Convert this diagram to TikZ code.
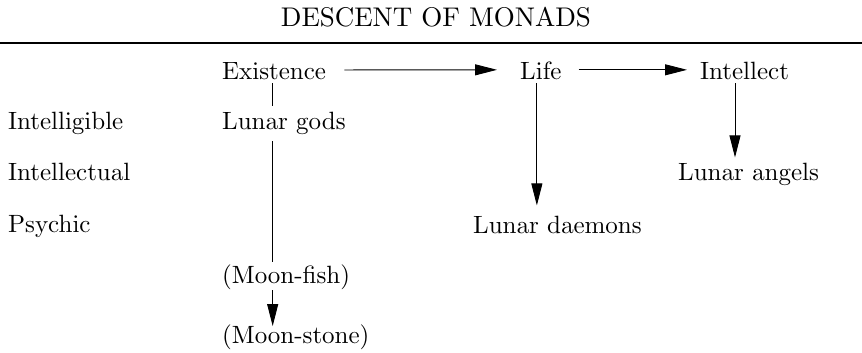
\documentclass[tikz,border=0pt]{standalone}
\usetikzlibrary{arrows.meta}
\font\mainfnt=cmr10 at 25pt
\font\titlefnt=cmr10 at 27pt
\begin{document}
\begin{tikzpicture}[x=1pt,y=-1pt,
  txt/.style={anchor=base west,inner sep=0pt,font=\mainfnt},
  ttl/.style={anchor=base,inner sep=0pt,font=\titlefnt},
  conn/.style={line width=0.9pt},
  arr/.style={conn,-{Triangle[length=22pt,width=11pt]}}]
\useasboundingbox (0,0) rectangle (862,353);
\node[ttl] (title) at (436,27) {DESCENT OF MONADS};
\coordinate (rl) at (0,43);
\coordinate (rr) at (862,43);
\draw[line width=1.1pt] (rl) -- (rr);
% top row
\node[txt] (exist) at (222,80) {Existence};
\node[txt] (life) at (520,80) {Life};
\node[txt] (intel) at (700,80) {Intellect};
% left labels
\node[txt] (lint) at (8,129) {Intelligible};
\node[txt] (lintl) at (8,180) {Intellectual};
\node[txt] (lpsy) at (8,232) {Psychic};
% entries
\node[txt] (gods) at (222,129) {Lunar gods};
\node[txt] (angels) at (678,180) {Lunar angels};
\node[txt] (daemons) at (473,233) {Lunar daemons};
\node[txt] (fish) at (222,283) {(Moon-fish)};
\node[txt] (stone) at (222,343) {(Moon-stone)};
% horizontal arrows
\draw[arr] ([xshift=18pt,yshift=1.5pt]exist.east) -- ([xshift=-23pt,yshift=1.5pt]life.west);
\draw[arr] ([xshift=17pt,yshift=1.5pt]life.east) -- ([xshift=-13pt,yshift=1.5pt]intel.west);
% Existence column
\draw[conn] ([xshift=-1.5pt,yshift=-3pt]exist.south) -- ([xshift=-1.5pt,yshift=5pt]exist.south |- gods.north);
\draw[conn] ([xshift=-1.5pt,yshift=-7pt]exist.south |- gods.south) -- ([xshift=-1.5pt,yshift=2pt]exist.south |- fish.north);
\draw[arr] ([xshift=-1.5pt,yshift=-1pt]exist.south |- fish.south) -- ([xshift=-1.5pt,yshift=-2pt]exist.south |- stone.north);
% Life column
\draw[arr] ([xshift=-4pt,yshift=-3pt]life.south) -- ([xshift=-4pt,yshift=10pt]life.south |- daemons.north);
% Intellect column
\draw[arr] ([xshift=35pt,yshift=-3pt]intel.south west) -- ([xshift=35pt,yshift=5pt]intel.south west |- angels.north);
\end{tikzpicture}
\end{document}
